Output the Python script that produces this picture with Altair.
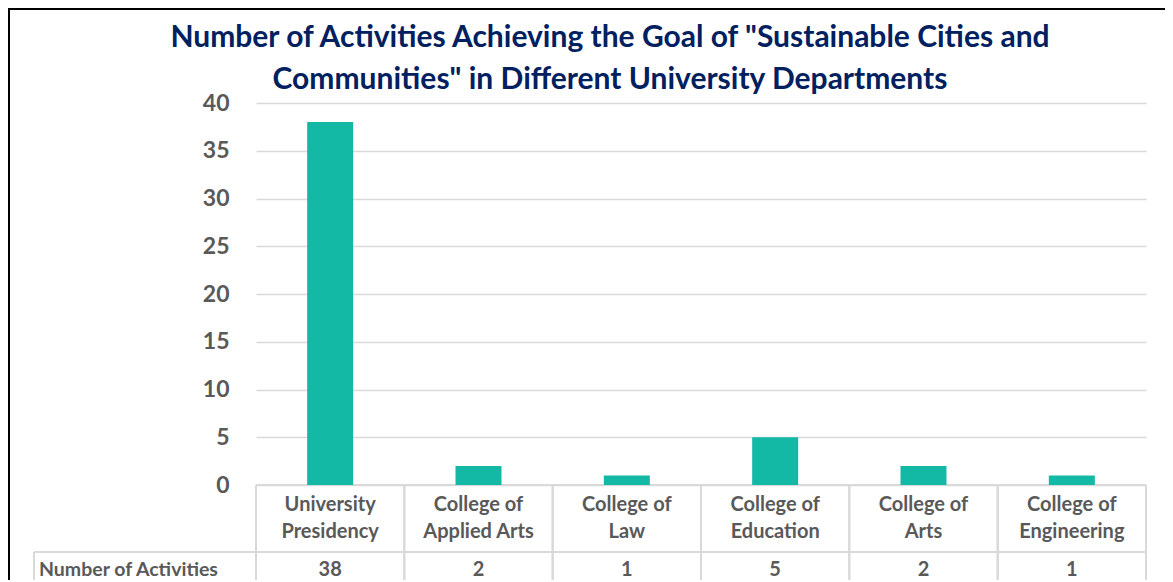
import altair as alt
import pandas as pd

departments = ["University Presidency", "College of Applied Arts", "College of Law",
               "College of Education", "College of Arts", "College of Engineering"]
label_line1 = ["University", "College of", "College of", "College of", "College of", "College of"]
label_line2 = ["Presidency", "Applied Arts", "Law", "Education", "Arts", "Engineering"]
activities = [38, 2, 1, 5, 2, 1]
y_ticks = [0, 5, 10, 15, 20, 25, 30, 35, 40]
title_line1 = 'Number of Activities Achieving the Goal of "Sustainable Cities and'
title_line2 = 'Communities" in Different University Departments'
row_label = "Number of Activities"

df = pd.DataFrame({"department": departments, "line1": label_line1,
                   "line2": label_line2, "activities": activities})
one = pd.DataFrame({"k": [0]})

W, H = 890, 382
TEAL = "#13B9A5"
GRAY = "#595959"
GRID = "#D9D9D9"
NAVY = "#002060"
FONT = "Lato"

xenc = alt.X("department:N", sort=departments,
             scale=alt.Scale(paddingInner=0, paddingOuter=0), axis=None)

base = alt.Chart(df)

bars = base.mark_bar(size=46, color=TEAL).encode(
    x=xenc,
    y=alt.Y("activities:Q",
            scale=alt.Scale(domain=[0, 40], nice=False),
            axis=alt.Axis(values=y_ticks, grid=True, gridColor=GRID, gridWidth=1.5,
                          domain=False, ticks=False, labelFont=FONT, labelFontSize=23,
                          labelFontWeight="bold", labelColor=GRAY, labelPadding=27,
                          title=None)),
)

txt = dict(font=FONT, fontWeight="bold", color=GRAY, fontSize=20, baseline="middle")

lab1 = base.mark_text(**txt).encode(x=xenc, y=alt.value(H + 20), text="line1:N")
lab2 = base.mark_text(**txt).encode(x=xenc, y=alt.value(H + 47), text="line2:N")
vals = base.mark_text(**txt).encode(x=xenc, y=alt.value(H + 85), text="activities:Q")

rowstyle = dict(txt, fontSize=19.5)
rowlab = alt.Chart(one).mark_text(text=row_label, align="left", **rowstyle).encode(
    x=alt.value(-217), y=alt.value(H + 85))

# table borders
vlines0 = base.mark_rule(color=GRID, strokeWidth=2).encode(
    x=alt.X("department:N", sort=departments, bandPosition=0,
            scale=alt.Scale(paddingInner=0, paddingOuter=0), axis=None),
    y=alt.value(H), y2=alt.value(H + 120))
vlines1 = base.mark_rule(color=GRID, strokeWidth=2).encode(
    x=alt.X("department:N", sort=departments, bandPosition=1,
            scale=alt.Scale(paddingInner=0, paddingOuter=0), axis=None),
    y=alt.value(H), y2=alt.value(H + 120))
hline_top = alt.Chart(one).mark_rule(color=GRID, strokeWidth=2).encode(
    x=alt.value(0), x2=alt.value(W), y=alt.value(H))
hline_mid = alt.Chart(one).mark_rule(color=GRID, strokeWidth=2).encode(
    x=alt.value(-222), x2=alt.value(W), y=alt.value(H + 67))
vline_left = alt.Chart(one).mark_rule(color=GRID, strokeWidth=2).encode(
    x=alt.value(-222), y=alt.value(H + 67), y2=alt.value(H + 120))

# title
tstyle = dict(font=FONT, fontWeight="bold", fontSize=30, color=NAVY,
              baseline="middle", align="center")
t1 = alt.Chart(one).mark_text(text=title_line1, **tstyle).encode(
    x=alt.value(354), y=alt.value(-65))
t2 = alt.Chart(one).mark_text(text=title_line2, **tstyle).encode(
    x=alt.value(354), y=alt.value(-23))

frame = alt.Chart(one).mark_rect(fill=None, stroke="black", strokeWidth=2).encode(
    x=alt.value(-247), x2=alt.value(W + 100), y=alt.value(-94), y2=alt.value(H + 200))

chart = alt.layer(
    frame, vlines0, vlines1, hline_top, hline_mid, vline_left,
    bars, lab1, lab2, vals, rowlab, t1, t2
).properties(
    width=W, height=H,
    autosize=alt.AutoSizeParams(type="none"),
    padding={"left": 248, "top": 95, "right": 19, "bottom": 95},
).configure_view(stroke=None)

chart.save("out.html", embed_options={"renderer": "svg", "actions": False})
